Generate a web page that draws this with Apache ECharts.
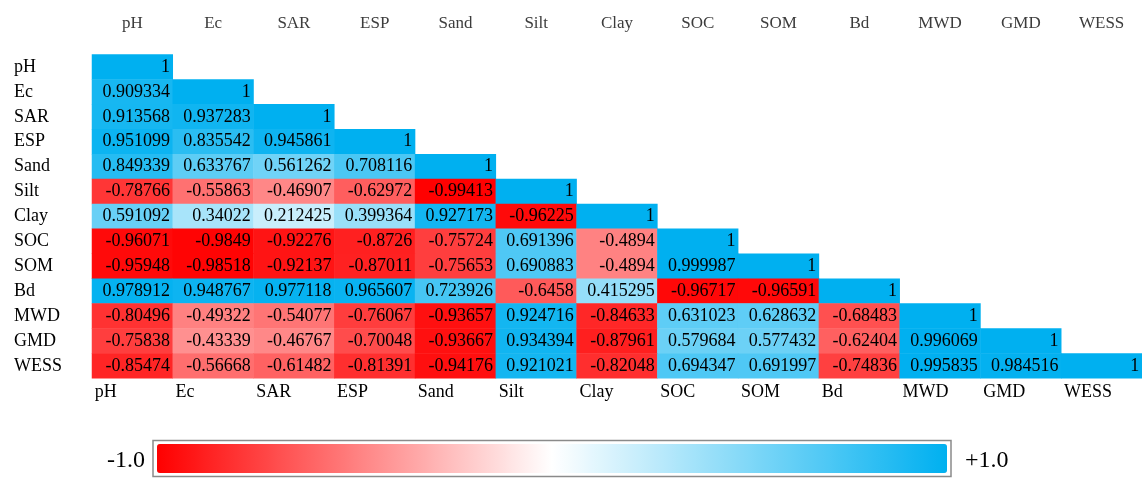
<!DOCTYPE html>
<html>
<head>
<meta charset="utf-8">
<script src="https://cdn.jsdelivr.net/npm/echarts@6/dist/echarts.min.js"></script>
<style>
  html, body { margin: 0; padding: 0; background: #fff; }
  #chart { width: 1142px; height: 478px; }
</style>
</head>
<body>
<div id="chart"></div>
<script>
// Soil property names (rows top→bottom, columns left→right)
const labels = ['pH', 'Ec', 'SAR', 'ESP', 'Sand', 'Silt', 'Clay', 'SOC', 'SOM', 'Bd', 'MWD', 'GMD', 'WESS'];

// Lower-triangle Pearson correlation coefficients, one array per row
const rowPH   = [1];
const rowEc   = [0.909334, 1];
const rowSAR  = [0.913568, 0.937283, 1];
const rowESP  = [0.951099, 0.835542, 0.945861, 1];
const rowSand = [0.849339, 0.633767, 0.561262, 0.708116, 1];
const rowSilt = [-0.78766, -0.55863, -0.46907, -0.62972, -0.99413, 1];
const rowClay = [0.591092, 0.34022, 0.212425, 0.399364, 0.927173, -0.96225, 1];
const rowSOC  = [-0.96071, -0.9849, -0.92276, -0.8726, -0.75724, 0.691396, -0.4894, 1];
const rowSOM  = [-0.95948, -0.98518, -0.92137, -0.87011, -0.75653, 0.690883, -0.4894, 0.999987, 1];
const rowBd   = [0.978912, 0.948767, 0.977118, 0.965607, 0.723926, -0.6458, 0.415295, -0.96717, -0.96591, 1];
const rowMWD  = [-0.80496, -0.49322, -0.54077, -0.76067, -0.93657, 0.924716, -0.84633, 0.631023, 0.628632, -0.68483, 1];
const rowGMD  = [-0.75838, -0.43339, -0.46767, -0.70048, -0.93667, 0.934394, -0.87961, 0.579684, 0.577432, -0.62404, 0.996069, 1];
const rowWESS = [-0.85474, -0.56668, -0.61482, -0.81391, -0.94176, 0.921021, -0.82048, 0.694347, 0.691997, -0.74836, 0.995835, 0.984516, 1];

// Color scale end labels
const scaleLabels = ['-1.0', '+1.0'];

const rows = [rowPH, rowEc, rowSAR, rowESP, rowSand, rowSilt, rowClay, rowSOC, rowSOM, rowBd, rowMWD, rowGMD, rowWESS];
const cells = [];
rows.forEach((r, i) => r.forEach((v, j) => cells.push([j, i, v])));

const SERIF = '"Liberation Serif", "Times New Roman", serif';

const chart = echarts.init(document.getElementById('chart'));
chart.setOption({
  animation: false,
  backgroundColor: '#ffffff',
  grid: { left: 92, top: 54.5, width: 1055.6, height: 323.8 },
  xAxis: [
    {
      type: 'category', data: labels, position: 'bottom',
      axisLine: { show: false }, axisTick: { show: false }, splitLine: { show: false },
      axisLabel: {
        interval: 0, align: 'left', margin: 5, padding: [0, 0, 0, -37.6],
        fontFamily: SERIF, fontSize: 18, color: '#000'
      }
    },
    {
      type: 'category', data: labels, position: 'top',
      axisLine: { show: false }, axisTick: { show: false }, splitLine: { show: false },
      axisLabel: {
        interval: 0, margin: 22,
        fontFamily: SERIF, fontSize: 17, color: '#3c3c3c'
      }
    }
  ],
  yAxis: {
    type: 'category', data: labels, inverse: true,
    axisLine: { show: false }, axisTick: { show: false }, splitLine: { show: false },
    axisLabel: {
      interval: 0, align: 'left', margin: 78,
      fontFamily: SERIF, fontSize: 18, color: '#000'
    }
  },
  visualMap: {
    type: 'continuous', min: -1, max: 1, calculable: false,
    orient: 'horizontal', left: 157, top: 444, padding: 0,
    itemWidth: 29, itemHeight: 790, text: null, seriesIndex: 0,
    inRange: { color: ['#ff0000', '#ffffff', '#00b0f0'] }
  },
  graphic: [
    {
      type: 'rect', shape: { x: 153, y: 440.5, width: 798, height: 36 },
      style: { fill: 'none', stroke: '#8a8a8a', lineWidth: 1.5 }, z: 10
    },
    {
      type: 'text', x: 145, y: 461,
      style: { text: scaleLabels[0], fontFamily: SERIF, fontSize: 24, fill: '#000', align: 'right', verticalAlign: 'middle' }
    },
    {
      type: 'text', x: 965, y: 461,
      style: { text: scaleLabels[1], fontFamily: SERIF, fontSize: 24, fill: '#000', align: 'left', verticalAlign: 'middle' }
    }
  ],
  series: [{
    type: 'heatmap',
    data: cells,
    itemStyle: { borderWidth: 0 },
    label: {
      show: true, position: 'insideRight', distance: 3,
      fontFamily: SERIF, fontSize: 18, color: '#000',
      formatter: p => String(p.value[2])
    },
    emphasis: { disabled: true }
  }]
});
</script>
</body>
</html>
